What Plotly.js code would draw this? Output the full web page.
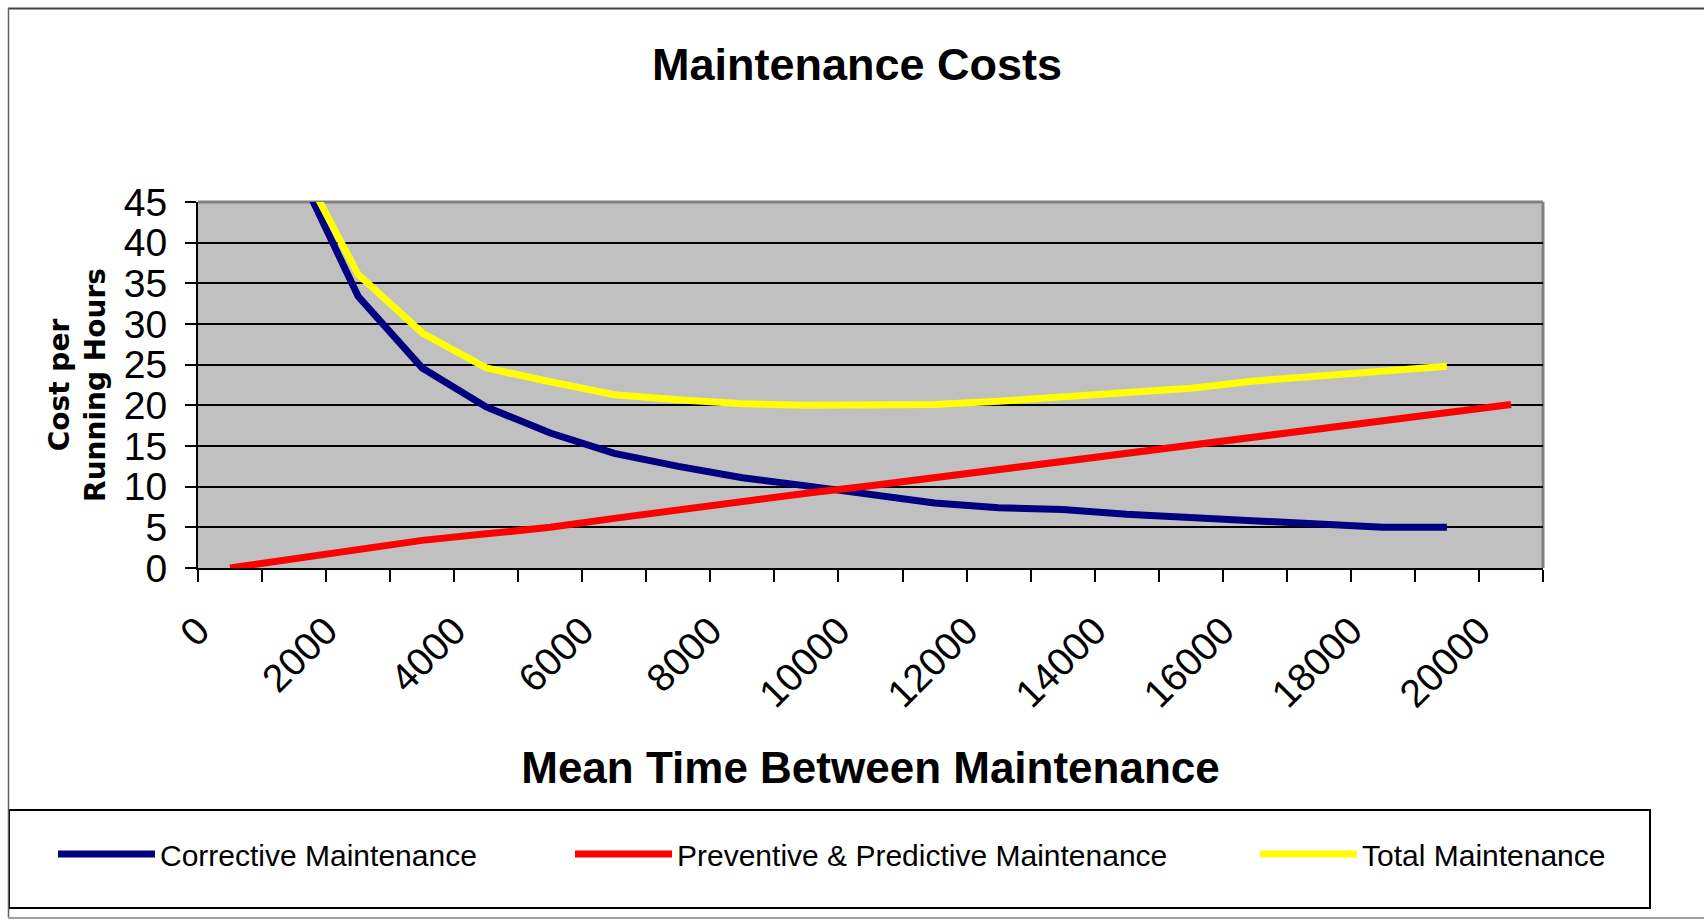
<!DOCTYPE html>
<html>
<head>
<meta charset="utf-8">
<script src="https://cdn.plot.ly/plotly-3.0.1.min.js"></script>
<style>html,body{margin:0;padding:0;background:#fff;overflow:hidden}</style>
</head>
<body>
<div id="chart" style="width:1704px;height:921px"></div>
<script>
// ---- data ----
const mtbm = [0, 1000, 2000, 3000, 4000, 5000, 6000, 7000, 8000, 9000, 10000,
              11000, 12000, 13000, 14000, 15000, 16000, 17000, 18000, 19000, 20000];
const corrective = [null, 50, 33.4, 24.6, 19.8, 16.6, 14.1, 12.5, 11.1, 10.1, 9.0,
                    8.0, 7.4, 7.2, 6.6, 6.2, 5.9, 5.3, 5.0, 5.0, null];
const preventive = [0, 1.1, 2.2, 3.4, 4.2, 5.0, 6.1, 7.2, 8.2, 9.2, 10.1,
                    11.1, 12.2, 13.1, 14.1, 15.3, 16.2, 17.2, 18.2, 19.2, 20.1];
const total = [null, 51, 36.1, 28.9, 24.6, 22.9, 21.3, 20.7, 20.2, 20.0, 20.0,
               20.1, 20.5, 21.0, 21.5, 22.1, 23.0, 23.6, 24.3, 24.8, null];
const seriesNames = ['Corrective Maintenance', 'Preventive & Predictive Maintenance', 'Total Maintenance'];
const xTickVals = [0, 2000, 4000, 6000, 8000, 10000, 12000, 14000, 16000, 18000, 20000];
const xTickText = ['0', '2000', '4000', '6000', '8000', '10000', '12000', '14000', '16000', '18000', '20000'];

// ---- geometry helpers (pixel -> paper) ----
const W = 1704, H = 921;
const PL = 198, PR = 1543, PT = 202, PB = 568;
const px = x => (x - PL) / (PR - PL);
const py = y => (PB - y) / (PB - PT);

const ARIAL = 'Liberation Sans, Arial, sans-serif';

const traces = [
  {x: mtbm, y: corrective, name: seriesNames[0], type: 'scatter', mode: 'lines',
   line: {color: '#000080', width: 7}, legend: 'legend'},
  {x: mtbm, y: preventive, name: seriesNames[1], type: 'scatter', mode: 'lines',
   line: {color: '#FF0000', width: 7}, legend: 'legend2'},
  {x: mtbm, y: total, name: seriesNames[2], type: 'scatter', mode: 'lines',
   line: {color: '#FFFF00', width: 7}, legend: 'legend3'}
];

function legendAt(xpix) {
  return {x: px(xpix), y: py(854), xanchor: 'left', yanchor: 'middle',
          xref: 'paper', yref: 'paper', orientation: 'h',
          bgcolor: 'rgba(0,0,0,0)', borderwidth: 0, itemwidth: 97,
          font: {family: ARIAL, size: 30, color: '#000'}};
}

const layout = {
  width: W, height: H, autosize: false,
  margin: {l: PL, r: W - PR, t: PT, b: H - PB, pad: 0},
  paper_bgcolor: '#ffffff',
  plot_bgcolor: '#C0C0C0',
  title: {text: 'Maintenance Costs', xref: 'container', yref: 'container',
          x: 857 / W, xanchor: 'center', y: 1 - 64 / H, yanchor: 'middle',
          font: {family: ARIAL, size: 45, weight: 'bold', color: '#000'}},
  xaxis: {type: 'linear', range: [-500, 20500], tickmode: 'array',
          tickvals: xTickVals, ticktext: xTickText, tickangle: -45,
          ticks: 'outside', ticklen: 12, tickcolor: 'rgba(0,0,0,0)',
          minor: {ticks: 'outside', ticklen: 12, tickwidth: 1.5, tickcolor: '#000',
                  tickmode: 'linear', tick0: 500, dtick: 1000, showgrid: false},
          showline: true, linecolor: '#000', linewidth: 2, mirror: false,
          showgrid: false, zeroline: false, fixedrange: true,
          tickfont: {family: ARIAL, size: 39, color: '#000'},
          ticklabelstandoff: 10, ticklabelshift: -32,
          title: {text: 'Mean Time Between Maintenance', standoff: 38,
                  font: {family: ARIAL, size: 44, weight: 'bold', color: '#000'}}},
  yaxis: {range: [0, 45], tickmode: 'linear', tick0: 0, dtick: 5,
          ticks: 'outside', ticklen: 11, tickwidth: 1.5, tickcolor: '#000',
          showline: true, linecolor: '#000', linewidth: 2,
          showgrid: true, gridcolor: '#000', gridwidth: 1.5, zeroline: false,
          fixedrange: true,
          tickfont: {family: ARIAL, size: 39, color: '#000'},
          ticklabelstandoff: 10,
          title: {text: 'Cost per<br>Running Hours', standoff: 10,
                  font: {family: 'DejaVu Sans, sans-serif', size: 28, weight: 'bold', color: '#000'}}},
  showlegend: true,
  legend: legendAt(53),
  legend2: legendAt(570),
  legend3: legendAt(1255),
  shapes: [
    // plot area top and right border
    {type: 'line', xref: 'paper', yref: 'paper', x0: 0, x1: 1, y0: 1, y1: 1,
     line: {color: '#808080', width: 3}, layer: 'between'},
    {type: 'line', xref: 'paper', yref: 'paper', x0: 1, x1: 1, y0: 0, y1: 1,
     line: {color: '#808080', width: 3}, layer: 'between'},
    // legend box
    {type: 'rect', xref: 'paper', yref: 'paper', x0: px(9), x1: px(1650), y0: py(810), y1: py(908),
     line: {color: '#000', width: 2}, fillcolor: 'rgba(0,0,0,0)', layer: 'above'},
    // outer chart frame (cut at the right edge)
    {type: 'line', xref: 'paper', yref: 'paper', x0: px(8), x1: px(1704), y0: py(8.5), y1: py(8.5),
     line: {color: '#404040', width: 2}},
    {type: 'line', xref: 'paper', yref: 'paper', x0: px(8.5), x1: px(8.5), y0: py(8), y1: py(918),
     line: {color: '#606060', width: 1.5}},
    {type: 'line', xref: 'paper', yref: 'paper', x0: px(8), x1: px(1704), y0: py(918), y1: py(918),
     line: {color: '#a0a0a0', width: 2}}
  ]
};

Plotly.newPlot('chart', traces, layout, {displayModeBar: false, responsive: false});
</script>
</body>
</html>
